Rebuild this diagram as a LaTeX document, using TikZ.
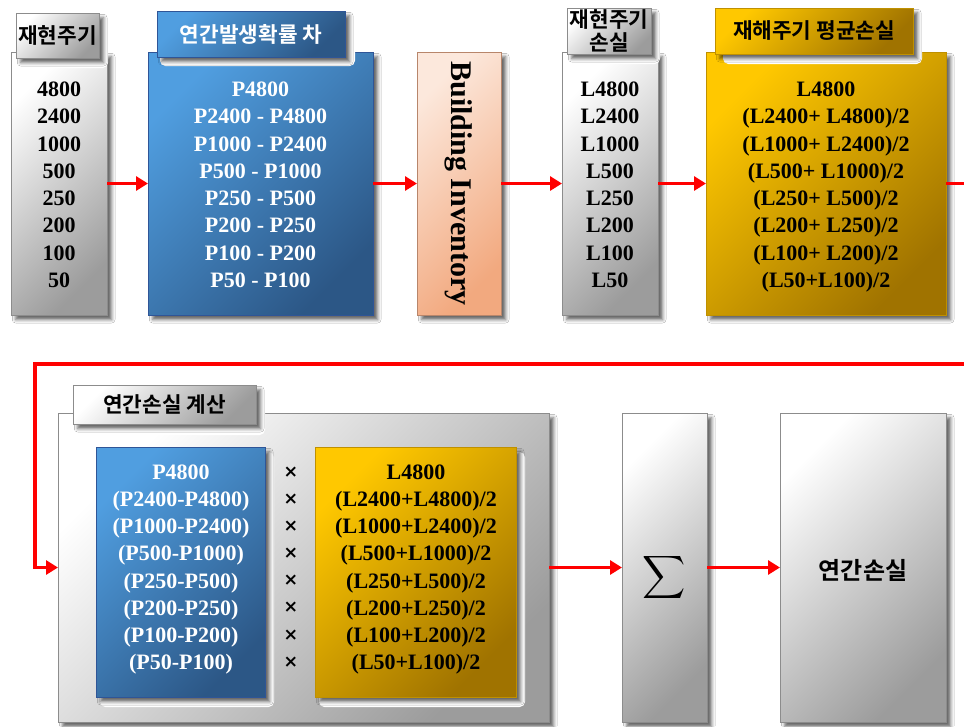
\documentclass[tikz,border=0pt]{standalone}
\usepackage{fontspec}
\setmainfont{Liberation Serif}
\newfontfamily\kr[BoldFont={Noto Sans CJK KR Bold}]{Noto Sans CJK KR}
\newfontfamily\dv{DejaVu Sans}
\usetikzlibrary{arrows.meta,fit,shadows.blur}

\definecolor{graydark}{HTML}{9C9C9C}
\definecolor{grayedge}{HTML}{8C8C8C}
\definecolor{bluelight}{HTML}{509EE0}
\definecolor{bluedark}{HTML}{2C5786}
\definecolor{blueedge}{HTML}{2F5597}
\definecolor{yellowlight}{HTML}{FFC800}
\definecolor{yellowdark}{HTML}{A07300}
\definecolor{yellowedge}{HTML}{BF9000}
\definecolor{salmonlight}{HTML}{FCE8DC}
\definecolor{salmondark}{HTML}{F2A97F}
\definecolor{salmonedge}{HTML}{B8866B}
\definecolor{linkred}{HTML}{FF0000}

\begin{document}
\begin{tikzpicture}[x=0.75pt,y=-0.75pt,
  shd/.style={blur shadow={shadow xshift=3.5pt,shadow yshift=-3.5pt,shadow blur radius=2.5pt,shadow opacity=60}},
  boxbase/.style={inner sep=0pt, outer sep=0pt, line width=0.6pt, shd},
  graybox/.style={boxbase, draw=grayedge, top color=white, bottom color=graydark, shading angle=45},
  bluebox/.style={boxbase, draw=blueedge, top color=bluelight, bottom color=bluedark, shading angle=45},
  yellowbox/.style={boxbase, draw=yellowedge, top color=yellowlight, bottom color=yellowdark, shading angle=45},
  salmonbox/.style={boxbase, draw=salmonedge, top color=salmonlight, bottom color=salmondark, shading angle=45},
  glow/.style={fill=white, rounded corners=4pt, draw=none},
  rowtext/.style={font=\fontsize{16.5}{20}\selectfont\bfseries, text height=11.2pt, text depth=0pt, inner sep=0pt},
  krlabel/.style={font=\kr\bfseries\fontsize{16}{17.5}\selectfont, align=center, inner sep=0pt},
  link/.style={draw=linkred, line width=2.4pt, -{Triangle[length=9pt,width=10.5pt]}},
  xmark/.style={font=\dv\bfseries\fontsize{13}{13}\selectfont, inner sep=0pt}
]
\useasboundingbox (0,0) rectangle (964,726);
\fill[white] (0,0) rectangle (964,726);

% ---------- top row ----------
\node[graybox, fit={(11,52)(107,315)}] (pr) {};
\fill[glow] (19,22) rectangle (108,68);
\node[graybox, fit={(16,13)(99,58)}] (prT) {};
\node[krlabel] (prL) at (prT.center) {재현주기};
\foreach \t [count=\i from 0] in {4800,2400,1000,500,250,200,100,50}
  \node[rowtext] (pr\i) at (59,89+27.3*\i) {\t};

\node[bluebox, fit={(148,52)(373,315)}] (pb) {};
\fill[glow] (160,20) rectangle (355,66);
\node[bluebox, fit={(157,11)(345,57)}] (pbT) {};
\node[krlabel, text=white] (pbL) at (pbT.center) {연간발생확률 차};
\foreach \t [count=\i from 0] in {P4800,P2400 - P4800,P1000 - P2400,P500 - P1000,P250 - P500,P200 - P250,P100 - P200,P50 - P100}
  \node[rowtext, text=white] (pb\i) at (260.5,89+27.3*\i) {\t};

\node[salmonbox, fit={(417,52)(501,315)}] (bi) {};
\node[rotate=-90, inner sep=0pt, font=\fontsize{22.5}{22.5}\selectfont\bfseries] (biT) at (bi.center) {Building Inventory};

\node[graybox, fit={(562,52)(658,315)}] (lb) {};
\fill[glow] (570,17) rectangle (660,64);
\node[graybox, fit={(567,8)(651,54)}] (lbT) {};
\node[krlabel] (lbL) at (lbT.center) {재현주기\\손실};
\foreach \t [count=\i from 0] in {L4800,L2400,L1000,L500,L250,L200,L100,L50}
  \node[rowtext] (lb\i) at (610,89+27.3*\i) {\t};

\node[yellowbox, fit={(706,52)(946,315)}] (yb) {};
\fill[glow] (723,17) rectangle (922,64);
\node[yellowbox, fit={(715,8)(913,54)}] (ybT) {};
\node[krlabel] (ybL) at (ybT.center) {재해주기 평균손실};
\foreach \t [count=\i from 0] in {L4800,(L2400+ L4800)/2,(L1000+ L2400)/2,(L500+ L1000)/2,(L250+ L500)/2,(L200+ L250)/2,(L100+ L200)/2,(L50+L100)/2}
  \node[rowtext] (yb\i) at (826,89+27.3*\i) {\t};

% ---------- bottom row ----------
\node[graybox, fit={(58,413)(549,722)}] (big) {};
\fill[glow] (80,395) rectangle (265,435);
\node[graybox, fit={(73,385)(256,424)}] (bigT) {};
\node[krlabel] (bigL) at (bigT.center) {연간손실 계산};

\fill[glow] (100,452) rectangle (274,707);
\node[bluebox, fit={(96,447)(265,697)}] (pp) {};
\foreach \t [count=\i from 0] in {P4800,(P2400-P4800),(P1000-P2400),(P500-P1000),(P250-P500),(P200-P250),(P100-P200),(P50-P100)}
  \node[rowtext, text=white] (pp\i) at (181,472+27.14*\i) {\t};

\foreach \i in {0,...,7}
  \node[xmark] (x\i) at (291,472+27.14*\i) {×};

\fill[glow] (319,452) rectangle (525,707);
\node[yellowbox, fit={(315,447)(516,697)}] (pl) {};
\foreach \t [count=\i from 0] in {L4800,(L2400+L4800)/2,(L1000+L2400)/2,(L500+L1000)/2,(L250+L500)/2,(L200+L250)/2,(L100+L200)/2,(L50+L100)/2}
  \node[rowtext] (pl\i) at (416,472+27.14*\i) {\t};

\node[graybox, fit={(622,413)(707,722)}] (sig) {};
\node[inner sep=0pt, scale=2.25] (sigT) at (664.5,577) {$\displaystyle\sum$};

\node[graybox, fit={(780,413)(946,722)}] (fin) {};
\node[inner sep=0pt, font=\kr\bfseries\fontsize{18}{18}\selectfont] (finL) at (863,570) {연간손실};

% ---------- connectors ----------
\draw[link] (pr) -- (pb);
\draw[link] (pb) -- (bi);
\draw[link] (bi) -- (lb);
\draw[link] (lb) -- (yb);
\coordinate (o1) at (975,183.5);
\coordinate (o2) at (975,364);
\coordinate (o3) at (35,364);
\draw[link] (yb.east) -- (o1) -- (o2) -- (o3) |- (big.west);
\draw[link] (big) -- (sig);
\draw[link] (sig) -- (fin);
\end{tikzpicture}
\end{document}
